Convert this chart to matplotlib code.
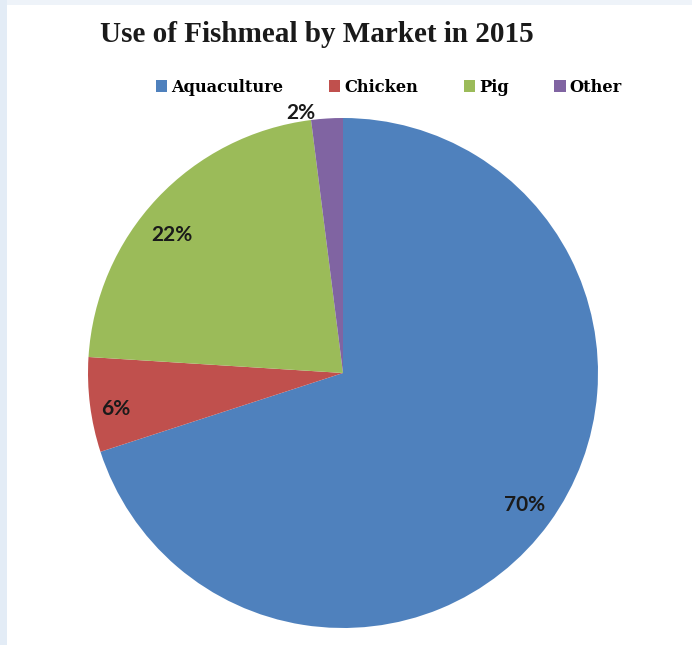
import numpy as np
import matplotlib.pyplot as plt
from matplotlib.patches import Rectangle

# data
markets = ['Aquaculture', 'Chicken', 'Pig', 'Other']
shares = [70, 6, 22, 2]
colors = ['#4F81BD', '#C0504D', '#9BBB59', '#8064A2']

W, H = 692, 645
fig = plt.figure(figsize=(W / 100, H / 100), dpi=100)
fig.patch.set_facecolor('white')

# light frame strips at top and left, like the screenshot
fig.patches.append(Rectangle((0, 1 - 5 / H), 1, 5 / H, transform=fig.transFigure,
                             facecolor='#eef3f9', edgecolor='none', zorder=0))
fig.patches.append(Rectangle((0, 0), 7 / W, 1, transform=fig.transFigure,
                             facecolor='#e3ecf6', edgecolor='none', zorder=0))

# pie axes: centre (343, 373) px, radius 255 px
cx, cy, r = 343, 373, 255
ax = fig.add_axes([(cx - r) / W, (H - cy - r) / H, 2 * r / W, 2 * r / H])
wedges, texts, autotexts = ax.pie(shares, colors=colors, startangle=90, counterclock=False,
                                  autopct='%1.0f%%', pctdistance=0.88,
                                  wedgeprops=dict(linewidth=0),
                                  textprops=dict(family='Lato', fontweight='bold',
                                                 fontsize=15, color='#1a1a1a'))
ax.set_xlim(-1, 1)
ax.set_ylim(-1, 1)

# small nudges to mimic Excel's "best fit" label placement
nudges = [(0.0, 0.0), (-0.02, -0.03), (-0.03, -0.06), (0.0, 0.0)]
for t, (dx, dy) in zip(autotexts, nudges):
    x, y = t.get_position()
    t.set_position((x + dx, y + dy))

# the small "Other" label sits outside the pie
w = wedges[3]
ang = np.deg2rad((w.theta1 + w.theta2) / 2)
autotexts[3].set_position((1.05 * np.cos(ang) - 0.10, 1.05 * np.sin(ang) - 0.03))

fig.text(317 / W, 1 - 34 / H, 'Use of Fishmeal by Market in 2015', ha='center', va='center',
         family='Liberation Serif', fontweight='bold', fontsize=21, color='#1a1a1a')

handles = [Rectangle((0, 0), 1, 1, facecolor=c, edgecolor='none') for c in colors]
fig.legend(handles, markets, loc='center', bbox_to_anchor=(389 / W, 1 - 87 / H), ncol=4,
           frameon=False, handlelength=0.7, handleheight=0.7, handletextpad=0.25,
           columnspacing=2.8, borderpad=0, borderaxespad=0,
           prop=dict(family='DejaVu Serif', weight='bold', size=11.7))

fig.savefig('out.png', dpi=100)
